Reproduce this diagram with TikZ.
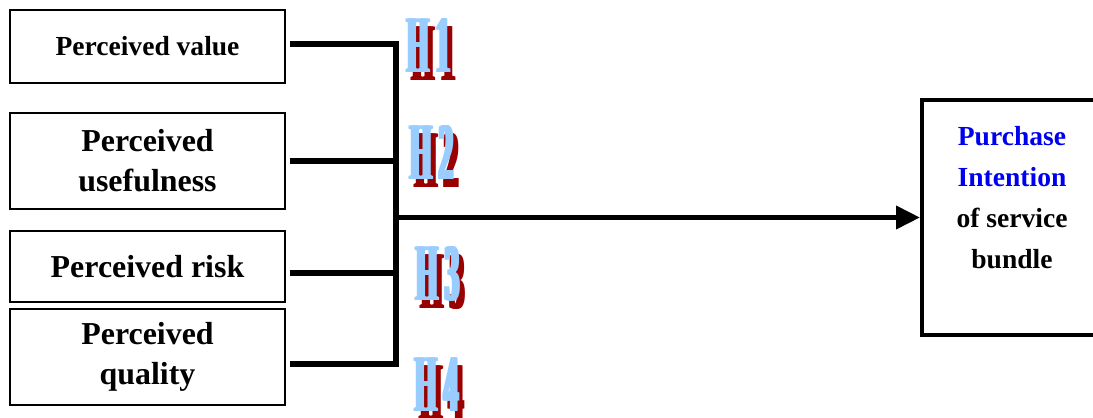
\documentclass[tikz,border=0pt]{standalone}
\usepackage{fontspec}
\setmainfont{Liberation Serif}
\usetikzlibrary{arrows.meta}
\definecolor{hblue}{HTML}{99CCFF}
\definecolor{hred}{HTML}{990000}
\definecolor{pblue}{HTML}{0000F0}
% heavy, narrow hypothesis lettering
\newcommand{\smear}[1]{\rlap{#1}\hspace{2pt}\rlap{#1}\hspace{2pt}\rlap{#1}\hspace{2pt}\rlap{#1}\hspace{2pt}#1}
\newcommand{\hyp}[2]{\scalebox{0.34}[1]{\smear{#1}\hspace{7pt}\smear{#2}}}
\begin{document}
\begin{tikzpicture}[x=0.025cm,y=-0.025cm,>={Triangle[length=17pt,width=16pt]}]
    \tikzset{
      factor/.style={draw, line width=0.9pt, minimum width=6.875cm, align=center,
        font=\fontsize{22.7}{28.5}\selectfont\bfseries, inner sep=0pt},
      bigbox/.style={draw, line width=2.8pt, minimum width=4.9cm, minimum height=5.875cm},
      boxtext/.style={align=center, font=\fontsize{19.6}{29.2}\selectfont\bfseries},
      link/.style={line width=3.6pt, line join=miter},
      hlab/.style={font=\fontsize{58}{58}\selectfont\bfseries, inner sep=0pt},
      hshadow/.style={hlab, text=hred},
      hfront/.style={hlab, text=hblue}
    }
    \useasboundingbox (0,0) rectangle (1093,418);
    % factors (left column)
    \node[factor, minimum height=1.825cm, font=\fontsize{19.6}{24}\selectfont\bfseries]
      (pv) at (147.5,46.5) {Perceived value};
    \node[factor, minimum height=2.4cm] (pu) at (147.5,161) {Perceived\\usefulness};
    \node[factor, minimum height=1.775cm] (pr) at (147.5,266.5) {Perceived risk};
    \node[factor, minimum height=2.4cm] (pq) at (147.5,357) {Perceived\\quality};
    % outcome
    \node[bigbox] (intent) at (1020,217.5) {};
    \node[boxtext] (intenttext) at (1012,197.5)
      {\textcolor{pblue}{Purchase}\\\textcolor{pblue}{Intention}\\of service\\bundle};
    % bus points
    \coordinate (j1) at (396,44);
    \coordinate (j2) at (396,161);
    \coordinate (j3) at (396,273);
    \coordinate (j4) at (396,364);

    % connectors
    \draw[link] ([xshift=3pt]pv.east |- j1) -- (j1) -- (j4) -- ([xshift=3pt]pq.east |- j4);
    \draw[link] ([xshift=3pt]pu.east |- j2) -- (j2);
    \draw[link] ([xshift=3pt]pr.east |- j3) -- (j3);
    \draw[link,->] (j1 |- intent.west) -- (intent.west);

    % hypothesis labels
    \node[hshadow] (h1s) at (434,54) {\hyp{H}{1}};
    \node[hfront]  (h1)  at (429,46) {\hyp{H}{1}};
    \node[hshadow] (h2s) at (437,161) {\hyp{H}{2}};
    \node[hfront]  (h2)  at (432,153) {\hyp{H}{2}};
    \node[hshadow] (h3s) at (443,282) {\hyp{H}{3}};
    \node[hfront]  (h3)  at (438,274) {\hyp{H}{3}};
    \node[hshadow] (h4s) at (442,393) {\hyp{H}{4}};
    \node[hfront]  (h4)  at (437,385) {\hyp{H}{4}};
  \end{tikzpicture}
\end{document}
